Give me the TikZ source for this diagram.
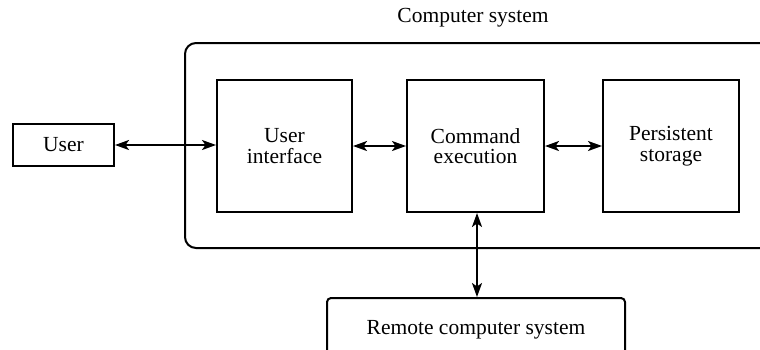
\documentclass[tikz,border=0pt]{standalone}
\usepackage{fontspec}
\setmainfont{Liberation Serif}
\usetikzlibrary{arrows.meta}
\begin{document}
\begin{tikzpicture}[x=1pt,y=-1pt,
  line width=2pt,
  every node/.style={font=\fontsize{21.5}{20.5}\selectfont},
  block/.style={draw, align=center, inner sep=0pt, line width=2pt},
  link/.style={{Stealth[length=14pt,width=10pt,inset=3.5pt]}-{Stealth[length=14pt,width=10pt,inset=3.5pt]}, line width=2pt}
]
\useasboundingbox (0,0) rectangle (760,349);

% enclosing computer system (runs off the right edge)
\draw[rounded corners=11pt] (770,43) -- (185,43) -- (185,248) -- (770,248);
\node (cslabel) at (473,18) {Computer system};

% blocks
\node[block, minimum width=101pt, minimum height=42pt] (user) at (63.5,145) {User};
\node[block, minimum width=135pt, minimum height=132pt] (ui) at (284.5,146) {User\\interface};
\node[block, minimum width=137pt, minimum height=132pt] (cmd) at (475.5,146) {Command\\execution};
\node[block, minimum width=136pt, minimum height=132pt] (store) at (671,146) {Persistent\\storage};
\node[block, rounded corners=4pt, minimum width=298pt, minimum height=70pt, anchor=north] (remote) at (476,297) {\raisebox{11pt}{Remote computer system}};

% connectors
\draw[link] (user.east) -- (user.east -| ui.west);
\draw[link] (ui.east) -- (ui.east -| cmd.west);
\draw[link] (cmd.east) -- (cmd.east -| store.west);
\coordinate (cmdbot) at ([xshift=1.5pt]cmd.south);
\draw[link] (cmdbot) -- (cmdbot |- remote.north);
\end{tikzpicture}
\end{document}
